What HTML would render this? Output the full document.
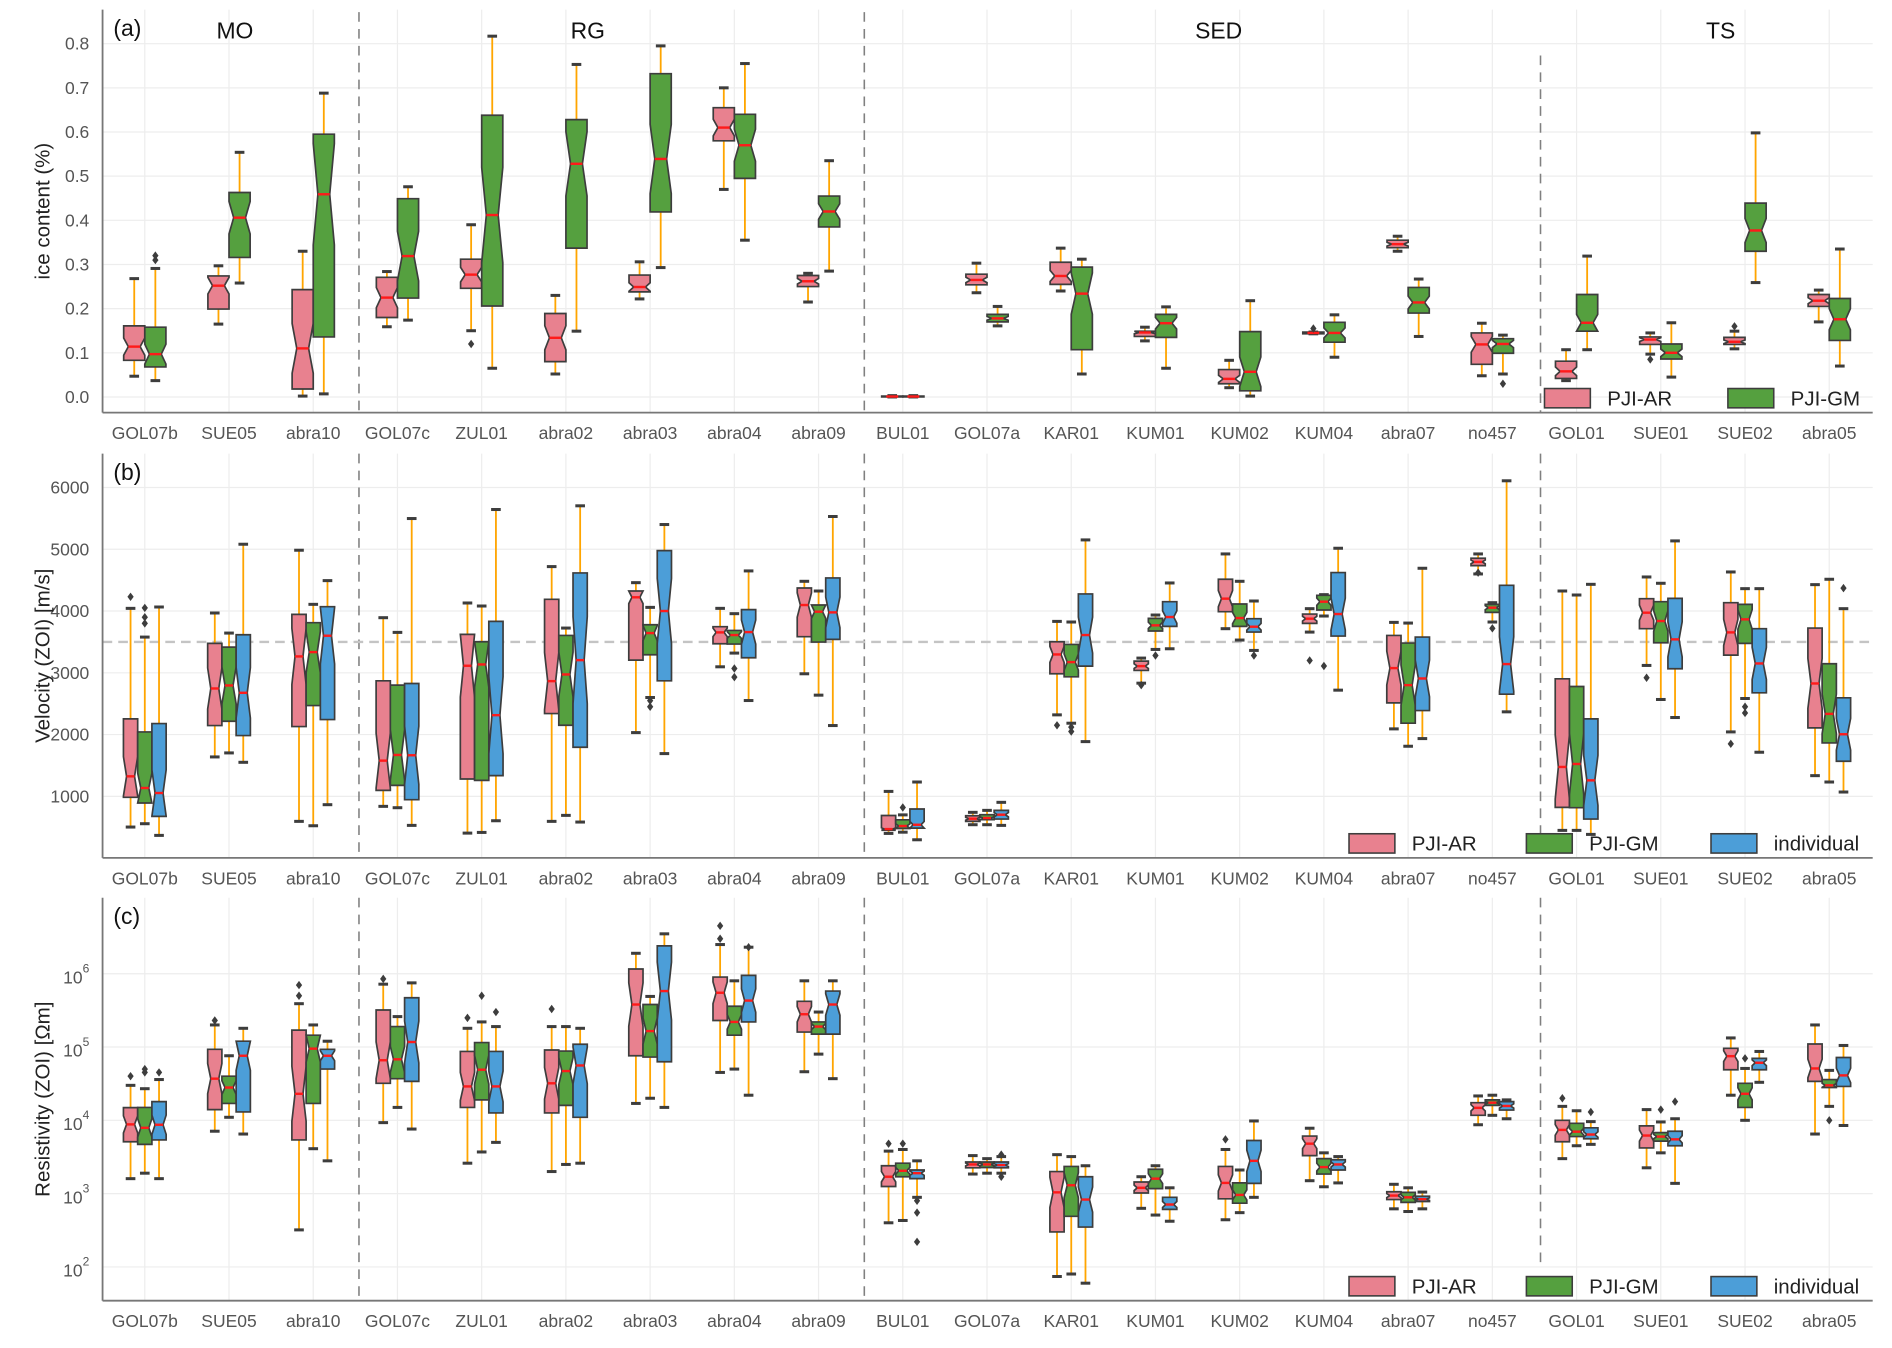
<!DOCTYPE html>
<html><head><meta charset="utf-8"><style>
html,body{margin:0;padding:0;background:#fff;}
svg{display:block;font-family:"Liberation Sans",sans-serif;}
</style></head><body>
<svg id="chart" width="1892" height="1348" viewBox="0 0 1568 1117.2" preserveAspectRatio="none" xmlns="http://www.w3.org/2000/svg"></svg>
<script>
// ---------- DATA ----------
const categories = ["GOL07b","SUE05","abra10","GOL07c","ZUL01","abra02","abra03","abra04","abra09","BUL01","GOL07a","KAR01","KUM01","KUM02","KUM04","abra07","no457","GOL01","SUE01","SUE02","abra05"];
const groupNames = ["MO","RG","SED","TS"];
const groupLabelCat = [1.07, 5.26, 12.75, 18.71];
const separatorsAfter = [2, 8, 16];
const seriesNames = ["PJI-AR","PJI-GM","individual"];
const ticksA = [0,0.1,0.2,0.3,0.4,0.5,0.6,0.7,0.8];
const ticksB = [1000,2000,3000,4000,5000,6000];
const ticksC = [1e2,1e3,1e4,1e5,1e6];
const refVelocity = 3500;
// [low whisker, q1, median, q3, high whisker]
const iceAR = [[0.047,0.083,0.114,0.161,0.268],[0.165,0.199,0.252,0.274,0.297],[0.002,0.018,0.11,0.243,0.33],[0.159,0.18,0.225,0.271,0.284],[0.15,0.246,0.277,0.312,0.39],[0.052,0.08,0.134,0.189,0.23],[0.222,0.238,0.249,0.276,0.306],[0.47,0.58,0.61,0.655,0.70],[0.215,0.25,0.262,0.275,0.28],[0.0,0.0,0.001,0.002,0.003],[0.236,0.254,0.265,0.278,0.303],[0.24,0.255,0.274,0.305,0.337],[0.127,0.137,0.146,0.149,0.158],[0.021,0.03,0.041,0.062,0.083],[0.143,0.143,0.145,0.147,0.147],[0.33,0.338,0.346,0.355,0.364],[0.048,0.074,0.119,0.145,0.167],[0.037,0.042,0.058,0.081,0.107],[0.097,0.119,0.13,0.136,0.145],[0.109,0.119,0.125,0.135,0.149],[0.17,0.205,0.218,0.232,0.242]];
const iceGM = [[0.037,0.068,0.097,0.158,0.291],[0.258,0.316,0.406,0.463,0.554],[0.007,0.136,0.459,0.595,0.688],[0.174,0.224,0.319,0.449,0.476],[0.065,0.206,0.412,0.638,0.817],[0.149,0.337,0.528,0.628,0.753],[0.293,0.419,0.539,0.732,0.795],[0.355,0.495,0.57,0.64,0.755],[0.285,0.385,0.42,0.455,0.535],[0.0,0.0,0.001,0.002,0.003],[0.161,0.17,0.178,0.187,0.205],[0.052,0.107,0.234,0.294,0.312],[0.065,0.135,0.167,0.187,0.204],[0.002,0.014,0.057,0.148,0.218],[0.09,0.124,0.145,0.169,0.186],[0.137,0.19,0.214,0.248,0.267],[0.052,0.099,0.12,0.132,0.14],[0.107,0.149,0.168,0.232,0.319],[0.045,0.086,0.1,0.12,0.168],[0.259,0.33,0.377,0.439,0.598],[0.07,0.128,0.176,0.223,0.335]];
const velAR = [[503,984,1324,2254,4043],[1638,2146,2746,3476,3968],[595,2130,3265,3946,4984],[838,1097,1578,2870,3892],[405,1281,3114,3622,4130],[595,2340,2865,4189,4719],[2032,3205,4222,4324,4459],[3097,3470,3654,3746,4043],[2984,3584,4097,4373,4481],[400,450,470,690,1080],[541,595,638,686,741],[2319,2984,3297,3503,3832],[2832,3038,3108,3189,3238],[3714,3989,4200,4514,4924],[3659,3800,3876,3951,4038],[2092,2513,3076,3605,3816],[4600,4735,4795,4854,4924],[449,822,1476,2903,4324],[3119,3714,3973,4200,4551],[2043,3286,3654,4135,4632],[1335,2108,2827,3724,4427]];
const velGM = [[557,892,1135,2043,3578],[1703,2216,2795,3416,3643],[524,2470,3335,3811,4108],[816,1178,1670,2800,3654],[416,1259,3135,3503,4081],[692,2151,2973,3605,3724],[2600,3292,3643,3778,4059],[3319,3465,3611,3686,3957],[2638,3497,3989,4097,4324],[420,480,520,620,700],[541,622,649,703,773],[2184,2935,3173,3459,3822],[3378,3676,3768,3881,3935],[3530,3751,3886,4114,4481],[3919,4016,4151,4254,4265],[1811,2184,2800,3481,3805],[3822,3978,4054,4108,4135],[449,816,1524,2778,4259],[2568,3486,3838,4151,4449],[2584,3476,3865,4108,4362],[1232,1865,2335,3146,4514]];
const velInd = [[368,676,1054,2178,4065],[1551,1984,2676,3616,5081],[865,2243,3600,4070,4492],[530,946,1665,2827,5497],[605,1335,2314,3832,5643],[584,1795,3205,4616,5703],[1692,2870,4000,4978,5400],[2551,3243,3659,4022,4649],[2146,3541,3978,4535,5530],[297,486,540,795,1232],[530,632,703,773,903],[1886,3108,3611,4276,5151],[3389,3751,3903,4151,4454],[3362,3659,3746,3876,4162],[2719,3595,3951,4622,5016],[1935,2389,2908,3578,4692],[2368,2654,3141,4416,6108],[384,632,1259,2254,4432],[2276,3065,3541,4205,5135],[1714,2676,3151,3714,4362],[1070,1568,2005,2595,4038]];
const resAR = [[1.6e3,5.1e3,8.8e3,1.49e4,3.0e4],[7.1e3,1.4e4,3.7e4,9.3e4,2.0e5],[3.2e2,5.4e3,2.3e4,1.7e5,3.9e5],[9.3e3,3.2e4,6.6e4,3.2e5,7.2e5],[2.6e3,1.5e4,2.9e4,8.7e4,1.8e5],[2.0e3,1.26e4,3.2e4,9.1e4,1.9e5],[1.7e4,7.6e4,3.8e5,1.16e6,1.9e6],[4.5e4,2.3e5,5.5e5,9e5,2.5e6],[4.6e4,1.6e5,2.8e5,4.2e5,8e5],[4.0e2,1.25e3,1.7e3,2.4e3,3.8e3],[1.85e3,2.25e3,2.5e3,2.7e3,3.3e3],[74,3.0e2,1.04e3,2.0e3,3.4e3],[6.3e2,1.02e3,1.2e3,1.44e3,1.7e3],[4.4e2,8.5e2,1.4e3,2.35e3,4.0e3],[1.5e3,3.3e3,4.8e3,6.1e3,7.8e3],[6.2e2,8.3e2,9.4e2,1.06e3,1.34e3],[8.7e3,1.17e4,1.48e4,1.74e4,2.15e4],[3.0e3,5.1e3,7.4e3,1.0e4,1.55e4],[2.25e3,4.2e3,6.2e3,8.4e3,1.4e4],[2.2e4,4.9e4,7.5e4,9.6e4,1.33e5],[6.5e3,3.4e4,5.1e4,1.1e5,2.0e5]];
const resGM = [[1.9e3,4.7e3,7.9e3,1.5e4,2.7e4],[1.1e4,1.7e4,2.8e4,4.0e4,7.6e4],[4.1e3,1.7e4,9.5e4,1.45e5,2.0e5],[1.5e4,3.7e4,6.8e4,1.9e5,2.6e5],[3.7e3,1.9e4,4.9e4,1.15e5,2.2e5],[2.5e3,1.6e4,4.7e4,8.8e4,1.9e5],[2.0e4,7.3e4,1.65e5,3.8e5,4.9e5],[5e4,1.45e5,2.2e5,3.6e5,8e5],[8e4,1.5e5,1.9e5,2.2e5,3e5],[4.3e2,1.7e3,2.05e3,2.6e3,4.0e3],[1.9e3,2.27e3,2.5e3,2.7e3,3.0e3],[80,4.9e2,1.3e3,2.35e3,3.2e3],[5.1e2,1.17e3,1.6e3,2.15e3,2.4e3],[5.5e2,7.4e2,9.6e2,1.4e3,2.1e3],[1.24e3,1.85e3,2.3e3,3.0e3,3.6e3],[5.7e2,7.6e2,8.9e2,1.04e3,1.2e3],[1.17e4,1.6e4,1.74e4,1.9e4,2.2e4],[4.5e3,6.0e3,7.0e3,9.1e3,1.35e4],[3.6e3,5.2e3,6.0e3,6.8e3,9.5e3],[1.0e4,1.5e4,2.3e4,3.2e4,5.1e4],[1.55e4,2.8e4,3.0e4,3.6e4,4.8e4]];
const resInd = [[1.6e3,5.4e3,8.7e3,1.8e4,3.6e4],[6.5e3,1.3e4,7.6e4,1.2e5,1.8e5],[2.8e3,5.0e4,7.6e4,9.3e4,1.2e5],[7.6e3,3.4e4,1.17e5,4.7e5,7.5e5],[5.0e3,1.26e4,2.9e4,8.7e4,1.9e5],[2.6e3,1.1e4,5.6e4,1.09e5,1.8e5],[1.5e4,6.3e4,5.8e5,2.4e6,3.5e6],[2.2e4,2.2e5,4.3e5,9.5e5,2.3e6],[3.7e4,1.5e5,3.8e5,5.8e5,8e5],[8.9e2,1.6e3,1.9e3,2.1e3,2.8e3],[1.9e3,2.25e3,2.45e3,2.7e3,3.2e3],[60,3.5e2,8.3e2,1.7e3,2.4e3],[4.2e2,6.1e2,7.1e2,8.9e2,1.2e3],[8.9e2,1.38e3,2.8e3,5.3e3,9.8e3],[1.4e3,2.1e3,2.5e3,2.9e3,3.2e3],[6.2e2,7.8e2,8.4e2,9.2e2,1.05e3],[1.05e4,1.38e4,1.57e4,1.8e4,1.9e4],[4.7e3,5.6e3,6.4e3,7.9e3,9.6e3],[1.38e3,4.5e3,5.5e3,7.1e3,1.05e4],[3.3e4,4.9e4,6.1e4,7.0e4,8.7e4],[8.5e3,2.9e4,4.1e4,7.2e4,1.05e5]];
// outliers: [category index, series index, value]
const outA = [[0,1,0.31],[0,1,0.32],[4,0,0.12],[16,1,0.03],[18,0,0.085],[19,0,0.16],[14,0,0.155]];
const outB = [[0,0,4230],[0,1,3800],[0,1,3900],[0,1,4050],[6,1,2450],[6,1,2550],[7,1,2930],[7,1,3070],[9,1,820],[11,0,2150],[11,1,2050],[11,1,2120],[12,0,2800],[12,1,3280],[13,2,3280],[14,0,3200],[14,1,3110],[16,0,4620],[16,1,3720],[18,0,2920],[19,0,1850],[19,1,2350],[19,1,2450],[20,2,4370]];
const outC = [[0,0,4e4],[0,1,4.5e4],[0,1,5e4],[0,2,4.5e4],[1,0,2.3e5],[2,0,5e5],[2,0,7e5],[3,0,8.5e5],[4,0,2.5e5],[4,1,5e5],[4,2,3e5],[5,0,3.3e5],[7,0,4.5e6],[7,0,3e6],[7,2,2.3e6],[9,0,4.8e3],[9,1,4.8e3],[9,2,8e2],[9,2,5.5e2],[9,2,2.2e2],[10,2,3.4e3],[10,2,1.7e3],[13,0,5.5e3],[17,0,2e4],[17,2,1.3e4],[18,1,1.4e4],[18,2,1.8e4],[19,1,7e4],[20,1,1e4]];

// ---------- LAYOUT ----------
const NS = "http://www.w3.org/2000/svg";
const svg = document.getElementById("chart");
const X0 = 85, X1 = 1552, CX0 = 120, STEP = 69.8;
const colors = ["#e8818f","#55a03f","#4c9ed8"];
const sepShift = [3, 3, 5];
function xCat(i){ return CX0 + STEP * i; }
const yA = v => 329 - v * 366;
const yB = v => 660 - (v - 1000) * 0.0512;
const yC = v => 807 - (Math.log10(v) - 6) * 60.75;

function el(tag, attrs, parent){
  const e = document.createElementNS(NS, tag);
  for (const k in attrs) e.setAttribute(k, attrs[k]);
  (parent || svg).appendChild(e);
  return e;
}

function drawPanel(p){
  const g = el("g", {});
  
  
  categories.forEach((c, i) => {
    const l = el("line", {x1: xCat(i), x2: xCat(i), y1: p.top, y2: p.bottom, stroke: "#ededed", "stroke-width": 1}, g);
    
    
  });
  p.ticks.forEach(t => {
    const y = p.tickY(t);
    const l = el("line", {x1: X0, x2: X1, y1: y, y2: y, stroke: "#ededed", "stroke-width": 1}, g);
    
    
    const tx = el("text", {x: 74, y: y + 5, "text-anchor": "end", "font-size": 14.5, fill: "#555"}, g);
    
    
    if (p.log){
      tx.setAttribute("y", y + 8);
      tx.appendChild(document.createTextNode("10"));
      const sup = el("tspan", {dy: -9, "font-size": 10}, tx);
      sup.textContent = String(Math.round(Math.log10(t)));
    } else tx.textContent = p.fmt(t);
  });
  separatorsAfter.forEach((s, k) => {
    const x = (xCat(s) + xCat(s + 1)) / 2 + sepShift[k];
    const y1 = (p.sepTop && p.sepTop[k] !== undefined) ? p.sepTop[k] : p.top;
    const y2 = (p.sepBottom && p.sepBottom[k] !== undefined) ? p.sepBottom[k] : p.bottom;
    const l = el("line", {x1: x, x2: x, y1: y1, y2: y2, stroke: "#808080", "stroke-width": 1.3, "stroke-dasharray": "8,6"}, g);
    
    
  });
  if (p.refLine){
    const y = p.tickY(refVelocity);
    const l = el("line", {x1: X0, x2: X1, y1: y, y2: y, stroke: "#c4c4c4", "stroke-width": 2, "stroke-dasharray": "8,5"}, g);
    
    
  }
  const ax1 = el("line", {x1: X0, x2: X0, y1: p.top, y2: p.bottom, stroke: "#777", "stroke-width": 1.5}, g);
  
  
  const ax2 = el("line", {x1: X0, x2: X1, y1: p.bottom, y2: p.bottom, stroke: "#777", "stroke-width": 1.5}, g);
  
  
  categories.forEach((c, i) => {
    const t = el("text", {x: xCat(i), y: p.bottom + 22, "text-anchor": "middle", "font-size": 14.5, fill: "#555"}, g);
    
    
    t.textContent = c;
  });
  const yt = el("text", {x: 0, y: 0, transform: `translate(41,${(p.top + p.bottom) / 2}) rotate(-90)`, "text-anchor": "middle", "font-size": 17, fill: "#222"}, g);
  
  
  yt.textContent = p.ytitle;
  const pl = el("text", {x: 94, y: p.top + 22, "font-size": 19, fill: "#111"}, g);
  
  
  pl.textContent = p.letter;
  const ns = p.series.length;
  const bw = ns === 2 ? 17.5 : 11.8;
  p.series.forEach((ser, si) => {
    const off = (si - (ns - 1) / 2) * bw;
    ser.forEach((d, ci) => {
      if (!d) return;
      const cx = xCat(ci) + off;
      const x0 = cx - bw / 2, x1 = cx + bw / 2;
      const [lo, q1, med, q3, hi] = d.map(p.tickY);
      const bg = el("g", {}, g);
      
      
      el("line", {x1: cx, x2: cx, y1: q3, y2: hi, stroke: "#ffa500", "stroke-width": 1.5}, bg);
      el("line", {x1: cx, x2: cx, y1: q1, y2: lo, stroke: "#ffa500", "stroke-width": 1.5}, bg);
      el("line", {x1: cx - 4, x2: cx + 4, y1: hi, y2: hi, stroke: "#3d3d3d", "stroke-width": 2.5}, bg);
      el("line", {x1: cx - 4, x2: cx + 4, y1: lo, y2: lo, stroke: "#3d3d3d", "stroke-width": 2.5}, bg);
      let n = Math.abs(q1 - q3) * 0.25;
      n = Math.max(0, Math.min(n, med - q3, q1 - med));
      const ins = bw * 0.22;
      const pts = [[x0,q3],[x1,q3],[x1,med-n],[x1-ins,med],[x1,med+n],[x1,q1],[x0,q1],[x0,med+n],[x0+ins,med],[x0,med-n]];
      el("polygon", {points: pts.map(q => q.join(",")).join(" "), fill: colors[si], stroke: "#3d3d3d", "stroke-width": 1.4}, bg);
      el("line", {x1: x0 + ins, x2: x1 - ins, y1: med, y2: med, stroke: "#ff1a1a", "stroke-width": 2}, bg);
    });
  });
  p.outliers.forEach(o => {
    const ci = o[0], si = o[1];
    const cx = xCat(ci) + (si - (ns - 1) / 2) * bw;
    const y = p.tickY(o[2]);
    const d = el("path", {d: `M${cx},${y-3.5} L${cx+2.6},${y} L${cx},${y+3.5} L${cx-2.6},${y} Z`, fill: "#3d3d3d"}, g);
    
    
  });
  p.legend.forEach((lg, k) => {
    const lgG = el("g", {}, g);
    
    
    el("rect", {x: lg[0], y: p.bottom - 20, width: 38, height: 16, fill: colors[k], stroke: "#3d3d3d", "stroke-width": 1.3}, lgG);
    const t = el("text", {x: lg[0] + 52, y: p.bottom - 6, "font-size": 17, fill: "#222"}, lgG);
    t.textContent = seriesNames[k];
  });
}

drawPanel({name: "panel-a-ice-content", letter: "(a)", top: 8, bottom: 342, ticks: ticksA, tickY: yA, fmt: t => t.toFixed(1),
  ytitle: "ice content (%)", series: [iceAR, iceGM], outliers: outA, legend: [[1280],[1432]],
  sepTop: [10, 10, 46], sepBottom: [342, 342, 342]});
drawPanel({name: "panel-b-velocity", letter: "(b)", top: 376, bottom: 711, ticks: ticksB, tickY: yB, fmt: t => String(t),
  ytitle: "Velocity (ZOI) [m/s]", series: [velAR, velGM, velInd], outliers: outB, legend: [[1118],[1265],[1418]], refLine: true});
drawPanel({name: "panel-c-resistivity", letter: "(c)", top: 744, bottom: 1078, ticks: ticksC, tickY: yC, log: true,
  ytitle: "Resistivity (ZOI) [Ωm]", series: [resAR, resGM, resInd], outliers: outC, legend: [[1118],[1265],[1418]],
  sepBottom: [1078, 1078, 1050]});

groupNames.forEach((gname, k) => {
  const t = el("text", {x: xCat(groupLabelCat[k]), y: 32, "text-anchor": "middle", "font-size": 19, fill: "#111"});
  
  
  t.textContent = gname;
});
</script>
</body></html>
